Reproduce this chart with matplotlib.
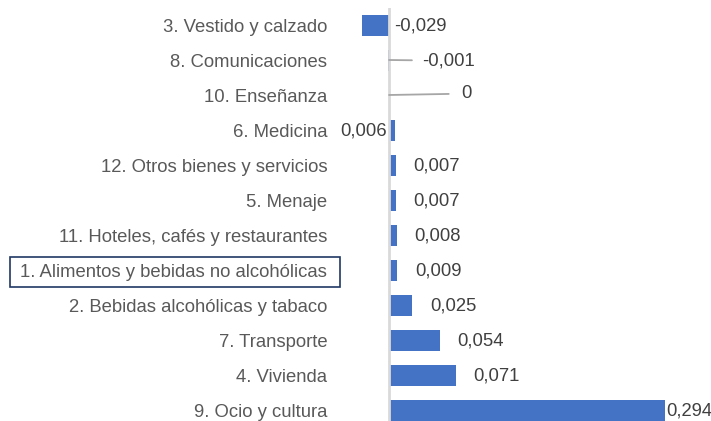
import matplotlib
matplotlib.use("Agg")
import matplotlib.pyplot as plt
from matplotlib.patches import Rectangle

categories = [
    "3. Vestido y calzado",
    "8. Comunicaciones",
    "10. Enseñanza",
    "6. Medicina",
    "12. Otros bienes y servicios",
    "5. Menaje",
    "11. Hoteles, cafés y restaurantes",
    "1. Alimentos y bebidas no alcohólicas",
    "2. Bebidas alcohólicas y tabaco",
    "7. Transporte",
    "4. Vivienda",
    "9. Ocio y cultura",
]
values = [-0.029, -0.001, 0.0, 0.006, 0.007, 0.007, 0.008, 0.009, 0.025, 0.054, 0.071, 0.294]
value_labels = ["-0,029", "-0,001", "0", "0,006", "0,007", "0,007", "0,008", "0,009",
                "0,025", "0,054", "0,071", "0,294"]

plt.rcParams['font.family'] = ['Liberation Sans', 'DejaVu Sans']

W, H = 711, 421
fig = plt.figure(figsize=(W / 100, H / 100), dpi=100)
ax_left, ax_right = 337, 700
ax_top, ax_bot = 7.5, 427.5
ax = fig.add_axes([ax_left / W, (H - ax_bot) / H, (ax_right - ax_left) / W, (ax_bot - ax_top) / H])

scale = 938.0  # px per unit
zero_px = 389
ax.set_xlim(-(zero_px - ax_left) / scale, (ax_right - zero_px) / scale)
n = len(categories)
ypos = list(range(n))
ax.set_ylim(n - 0.5, -0.5)

ax.barh(ypos, values, height=0.6, color="#4472C4", zorder=2)
ax.axvline(0, color="#D9D9D9", lw=2, zorder=3)

for s in ax.spines.values():
    s.set_visible(False)
ax.set_xticks([])
ax.set_yticks(ypos)
ax.set_yticklabels(categories, fontsize=13.3, color="#595959")
ax.tick_params(axis="y", length=0, pad=7)

label_color = "#404040"
fs = 13.3
for i, (v, lab) in enumerate(zip(values, value_labels)):
    if i == 0:
        ax.annotate(lab, (0, i), xytext=(3.5, -1), textcoords="offset points",
                    ha="left", va="center", fontsize=fs, color=label_color)
    elif i == 1:
        ax.annotate(lab, (0, i), xytext=(23.5, -0.5), textcoords="offset points",
                    ha="left", va="center", fontsize=fs, color=label_color,
                    arrowprops=dict(arrowstyle="-", color="#A6A6A6", lw=1.3,
                                    shrinkA=5, shrinkB=0))
    elif i == 2:
        ax.annotate(lab, (0, i), xytext=(52, 1), textcoords="offset points",
                    ha="left", va="center", fontsize=fs, color=label_color,
                    arrowprops=dict(arrowstyle="-", color="#A6A6A6", lw=1.3,
                                    shrinkA=7, shrinkB=0))
    elif i == 3:
        ax.annotate(lab, (0, i), xytext=(-1.5, -0.5), textcoords="offset points",
                    ha="left" if False else "right", va="center", fontsize=fs, color=label_color)
    elif i == n - 1:
        ax.annotate(lab, (v, i), xytext=(1.0, -1), textcoords="offset points",
                    ha="left", va="center", fontsize=fs, color=label_color)
    else:
        ax.annotate(lab, (v, i), xytext=(12.5, -1), textcoords="offset points",
                    ha="left", va="center", fontsize=fs, color=label_color)

# box around highlighted category label
fig.patches.append(Rectangle((10 / W, (H - 287) / H), 330 / W, 30 / H,
                             transform=fig.transFigure, fill=False,
                             edgecolor="#1F3864", lw=1.2))

fig.savefig("out.png", dpi=100)
